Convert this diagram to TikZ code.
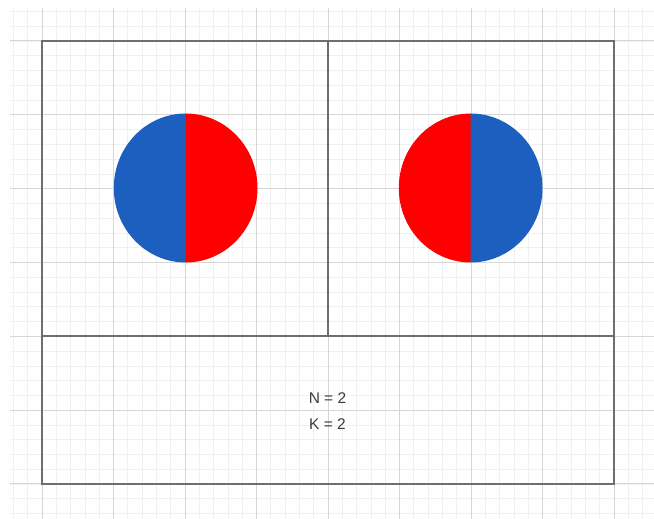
\documentclass[tikz,border=0pt]{standalone}
\usepackage{fontspec}
\setmainfont{Liberation Sans}
\definecolor{minorgrid}{HTML}{F0F0F0}
\definecolor{majorgrid}{HTML}{D6D6D6}
\definecolor{boxline}{HTML}{6E6E6E}
\definecolor{pblue}{HTML}{1C5FBE}
\definecolor{pred}{HTML}{FF0000}
\definecolor{txt}{HTML}{3C3C3C}
\tikzset{
  minorline/.style={draw=minorgrid, line width=0.8pt},
  majorline/.style={draw=majorgrid, line width=1pt},
  frame/.style={draw=boxline, line width=2pt},
  lbl/.style={text=txt, font=\fontsize{15.5}{18}\selectfont, inner sep=0pt},
}
\begin{document}
\begin{tikzpicture}[x=1pt,y=-1pt]
\useasboundingbox (0,0) rectangle (654,519);
\fill[white] (0,0) rectangle (654,519);
% minor grid
\foreach \i in {-2,...,42} {
  \pgfmathsetmacro\xx{42+14.3*\i}
  \draw[minorline] (\xx,8) -- (\xx,519);
}
\foreach \j in {-2,...,34} {
  \pgfmathsetmacro\yy{41+14.77*\j}
  \draw[minorline] (10,\yy) -- (654,\yy);
}
% major grid
\foreach \i in {0,...,8} {
  \pgfmathsetmacro\xx{42+71.5*\i}
  \draw[majorline] (\xx,8) -- (\xx,519);
}
\foreach \j in {0,...,6} {
  \pgfmathsetmacro\yy{41+73.83*\j}
  \draw[majorline] (10,\yy) -- (654,\yy);
}
% frames
\coordinate (tl) at (42,41);
\coordinate (br) at (614,484);
\coordinate (ml) at (42,336);
\coordinate (mr) at (614,336);
\coordinate (mt) at (328,41);
\coordinate (mb) at (328,336);
\draw[frame] (tl) rectangle (br);
\draw[frame] (ml) -- (mr);
\draw[frame] (mt) -- (mb);
% left circle
\coordinate (c1) at (185.5,188);
\fill[pblue] ([xshift=0.3pt]c1) ++(0,74.5) arc[start angle=90,end angle=270,x radius=72,y radius=74.5] -- cycle;
\fill[pred] (c1) ++(0,74.5) arc[start angle=90,end angle=-90,x radius=72,y radius=74.5] -- cycle;
% right circle
\coordinate (c2) at (470.5,188);
\fill[pred] ([xshift=0.3pt]c2) ++(0,74.5) arc[start angle=90,end angle=270,x radius=72,y radius=74.5] -- cycle;
\fill[pblue] (c2) ++(0,74.5) arc[start angle=90,end angle=-90,x radius=72,y radius=74.5] -- cycle;
% labels
\node[lbl] (n) at (327.5,398.5) {N = 2};
\node[lbl] (k) at (327.5,424) {K = 2};
\end{tikzpicture}
\end{document}
